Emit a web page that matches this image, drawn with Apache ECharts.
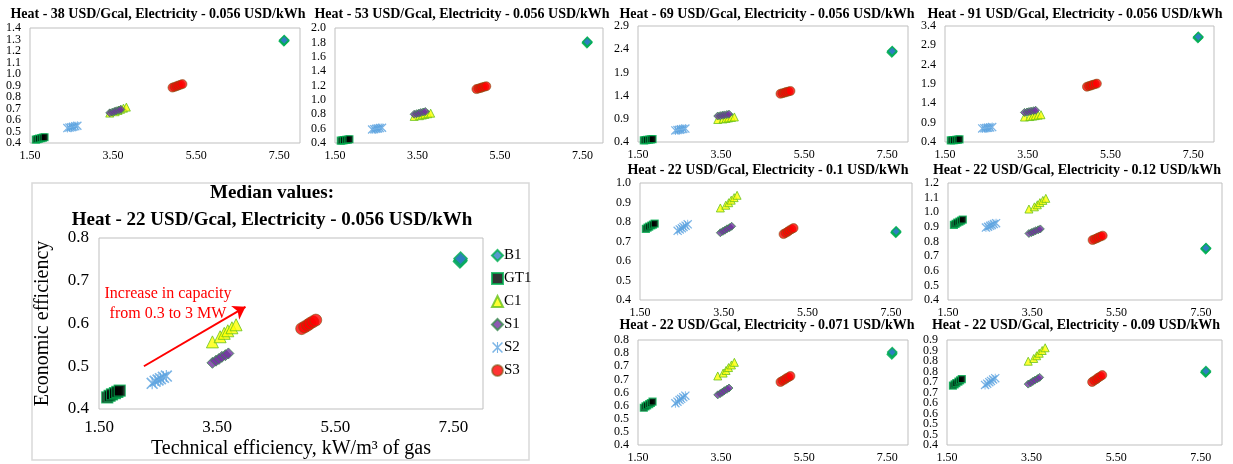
<!DOCTYPE html>
<html><head><meta charset="utf-8">
<script src="https://cdn.jsdelivr.net/npm/echarts/dist/echarts.min.js"></script>
<style>html,body{margin:0;padding:0;background:#fff}#c{width:1233px;height:464px}</style>
</head><body><div id="c"></div>
<script>
// ---------------- DATA ----------------
const seriesNames = ['B1', 'GT1', 'C1', 'S1', 'S2', 'S3'];

// Technical efficiency, kW/m3 of gas (same in every panel)
const xB1  = [7.61, 7.62, 7.62];
const xGT1 = [1.64, 1.68, 1.72, 1.77, 1.81, 1.85];
const xC1  = [3.42, 3.55, 3.62, 3.68, 3.75, 3.82];
const xS1  = [3.42, 3.48, 3.53, 3.58, 3.64, 3.69];
const xS2  = [2.40, 2.45, 2.50, 2.54, 2.59, 2.64];
const xS3  = [4.93, 4.98, 5.03, 5.07, 5.12, 5.17];

// Economic efficiency per panel
const yMedian = { B1:[0.745,0.748,0.752], GT1:[0.427,0.431,0.434,0.437,0.440,0.443], C1:[0.557,0.569,0.577,0.583,0.590,0.597], S1:[0.508,0.513,0.517,0.522,0.526,0.530], S2:[0.460,0.465,0.468,0.471,0.474,0.477], S3:[0.588,0.592,0.596,0.600,0.604,0.608] };
const yHeat38 = { B1:[1.285,1.290,1.295], GT1:[0.430,0.434,0.438,0.442,0.446,0.450], C1:[0.660,0.672,0.683,0.693,0.703,0.712], S1:[0.662,0.668,0.674,0.680,0.686,0.692], S2:[0.530,0.534,0.538,0.542,0.546,0.550], S3:[0.882,0.888,0.894,0.900,0.906,0.912] };
const yHeat53 = { B1:[1.790,1.800,1.810], GT1:[0.432,0.436,0.440,0.444,0.448,0.452], C1:[0.770,0.780,0.789,0.798,0.807,0.815], S1:[0.800,0.808,0.815,0.823,0.831,0.838], S2:[0.588,0.593,0.598,0.603,0.608,0.612], S3:[1.150,1.158,1.166,1.174,1.182,1.190] };
const yHeat69 = { B1:[2.330,2.350,2.360], GT1:[0.437,0.442,0.446,0.451,0.455,0.460], C1:[0.885,0.897,0.908,0.919,0.930,0.940], S1:[0.960,0.968,0.976,0.984,0.992,1.000], S2:[0.650,0.658,0.666,0.674,0.682,0.690], S3:[1.440,1.452,1.464,1.476,1.488,1.500] };
const yHeat91 = { B1:[3.090,3.110,3.120], GT1:[0.440,0.446,0.451,0.457,0.462,0.468], C1:[1.045,1.058,1.070,1.082,1.094,1.105], S1:[1.165,1.176,1.187,1.198,1.209,1.220], S2:[0.750,0.757,0.764,0.771,0.778,0.785], S3:[1.830,1.846,1.862,1.878,1.894,1.910] };
const yElec100 = { B1:[0.745,0.748,0.752], GT1:[0.765,0.771,0.776,0.782,0.787,0.792], C1:[0.872,0.886,0.899,0.912,0.925,0.937], S1:[0.745,0.752,0.758,0.765,0.771,0.778], S2:[0.755,0.762,0.768,0.775,0.781,0.788], S3:[0.738,0.744,0.750,0.757,0.763,0.769] };
const yElec120 = { B1:[0.748,0.752,0.755], GT1:[0.914,0.921,0.929,0.936,0.943,0.950], C1:[1.022,1.037,1.051,1.066,1.081,1.095], S1:[0.855,0.861,0.867,0.874,0.880,0.886], S2:[0.895,0.901,0.907,0.913,0.919,0.925], S3:[0.810,0.816,0.822,0.828,0.834,0.840] };
const yElec071 = { B1:[0.745,0.750,0.754], GT1:[0.542,0.547,0.551,0.556,0.560,0.565], C1:[0.663,0.674,0.684,0.695,0.705,0.715], S1:[0.591,0.596,0.601,0.607,0.612,0.617], S2:[0.559,0.565,0.571,0.576,0.582,0.588], S3:[0.640,0.645,0.649,0.654,0.658,0.663] };
const yElec090 = { B1:[0.745,0.748,0.752], GT1:[0.683,0.689,0.695,0.702,0.708,0.714], C1:[0.799,0.812,0.825,0.837,0.850,0.863], S1:[0.690,0.696,0.703,0.709,0.716,0.722], S2:[0.686,0.692,0.699,0.705,0.712,0.718], S3:[0.700,0.707,0.713,0.720,0.726,0.733] };

const panelTitles = [
  'Heat - 38 USD/Gcal, Electricity - 0.056 USD/kWh',
  'Heat - 53 USD/Gcal, Electricity - 0.056 USD/kWh',
  'Heat - 69 USD/Gcal, Electricity - 0.056 USD/kWh',
  'Heat - 91 USD/Gcal, Electricity - 0.056 USD/kWh',
  'Median values:\nHeat - 22 USD/Gcal, Electricity - 0.056 USD/kWh',
  'Heat - 22 USD/Gcal, Electricity - 0.1 USD/kWh',
  'Heat - 22 USD/Gcal, Electricity - 0.12 USD/kWh',
  'Heat - 22 USD/Gcal, Electricity - 0.071 USD/kWh',
  'Heat - 22 USD/Gcal, Electricity - 0.09 USD/kWh'
];
const panelData = [yHeat38, yHeat53, yHeat69, yHeat91, yMedian, yElec100, yElec120, yElec071, yElec090];
// y tick labels: [min, max, label step, decimals]
const yTicks = [[0.4,1.4,0.1,1],[0.4,2.0,0.2,1],[0.4,2.9,0.5,1],[0.4,3.4,0.5,1],[0.4,0.8,0.1,1],[0.4,1.0,0.1,1],[0.4,1.2,0.1,1],[0.4,0.8,0.05,1],[0.4,0.9,0.05,1]];
// x tick labels: [min, max, label step, decimals]
const xTicks = [1.5, 8.0, 2, 2];
const xName = 'Technical efficiency, kW/m³ of gas';
const yName = 'Economic efficiency';
const annotation = 'Increase in capacity\nfrom 0.3 to 3 MW';
const arrowFrom = [2.26, 0.500], arrowTo = [3.98, 0.639];

// ---------------- LAYOUT / STYLE ----------------
const BIG = 4;
const grids = [
  {left:30, top:28, width:270, height:115},
  {left:335, top:28, width:268, height:115},
  {left:638, top:26, width:270, height:116},
  {left:945, top:26, width:269, height:116},
  {left:99, top:238, width:384, height:171},
  {left:640, top:183, width:272, height:117},
  {left:948, top:183, width:274, height:117},
  {left:638, top:340, width:270, height:116},
  {left:947, top:340, width:275, height:116}
];
const titlePos = [[158,14],[462,14],[767,14],[1075,14],[272,207],[768,170],[1077,170],[767,325],[1076,325]];
const FONT = 'Liberation Serif';
const GREEN = '#00B050';
const xsOf = {B1:xB1, GT1:xGT1, C1:xC1, S1:xS1, S2:xS2, S3:xS3};
const starPath = 'path://M0,1L1,0L10,9L9,10Z M9,0L10,1L1,10L0,9Z M4.5,0L5.5,0L5.5,10L4.5,10Z';
const styleOf = {
  B1:  {symbol:'diamond', size:[9,13], item:{color:'#2E7DC0', borderColor:GREEN, borderWidth:1.5}},
  GT1: {symbol:'rect', size:[7,11], item:{color:'#000000', borderColor:GREEN, borderWidth:1.2}},
  C1:  {symbol:'triangle', size:[8,12], item:{color:'#FFFF00', borderColor:'#66C21A', borderWidth:1}},
  S1:  {symbol:'diamond', size:[8,11], item:{color:'#7030A0', borderColor:'#3C8A50', borderWidth:1}},
  S2:  {symbol:starPath, size:[9,12], item:{color:'#5BA3E0', borderWidth:0}},
  S3:  {symbol:'circle', size:[9,12], item:{color:'#FF0000', borderColor:'rgba(120,90,20,0.7)', borderWidth:1}}
};

function fmt(start, step, dec) {
  return function (v) {
    const k = (v - start) / step;
    if (Math.abs(k - Math.round(k)) > 1e-6) return '';
    const p = Math.pow(10, dec);
    return (Math.round(v * p) / p).toFixed(dec);
  };
}

const xAxes = [], yAxes = [], series = [], graphics = [];
grids.forEach((g, i) => {
  const big = i === BIG;
  const fs = big ? 17 : 12;
  const yt = yTicks[i];
  xAxes.push({
    type:'value', gridIndex:i, min:xTicks[0], max:xTicks[1], interval:0.5,
    axisLine:{show:false}, axisTick:{show:false}, splitLine:{show:false},
    axisLabel:{formatter:fmt(xTicks[0], xTicks[2], xTicks[3]), fontFamily:FONT, fontSize:fs, color:'#000', margin:big?10:7, showMinLabel:true, showMaxLabel:true},
    name: big ? xName : '', nameLocation:'middle', nameGap:30,
    nameTextStyle:{fontFamily:FONT, fontSize:20, color:'#000'}
  });
  // fine tick step (labels only on every label-step tick, empty elsewhere)
  const fine = (yt[2] === 0.5) ? 0.1 : yt[2] / 2;
  yAxes.push({
    type:'value', gridIndex:i, min:yt[0], max:yt[1], interval:fine,
    axisLine:{show:false}, axisTick:{show:false}, splitLine:{show:false},
    axisLabel:{formatter:fmt(yt[0], yt[2], yt[3]), fontFamily:FONT, fontSize:fs, color:'#000', margin:big?10:9, showMinLabel:true, showMaxLabel:true, hideOverlap:false},
    name: big ? yName : '', nameLocation:'middle', nameGap:46,
    nameTextStyle:{fontFamily:FONT, fontSize:20, color:'#000'}
  });
  seriesNames.forEach(s => {
    const st = styleOf[s];
    const ys = panelData[i][s];
    const ser = {
      type:'scatter', name:s, xAxisIndex:i, yAxisIndex:i,
      symbol:st.symbol, symbolSize: big ? st.size[1] : st.size[0],
      itemStyle:st.item, emphasis:{disabled:true}, animation:false,
      data: xsOf[s].map((x, k) => [x, ys[k]])
    };
    if (big && s === 'S3') {
      ser.markLine = {
        silent:true, symbol:['none','arrow'], symbolSize:12, animation:false,
        label:{show:false}, lineStyle:{color:'#FF0000', width:2, type:'solid'},
        itemStyle:{color:'#FF0000'},
        emphasis:{disabled:true},
        data:[[{coord:arrowFrom}, {coord:arrowTo}]]
      };
    }
    series.push(ser);
  });
  graphics.push({
    type:'text', x:titlePos[i][0], y:titlePos[i][1], z:10,
    style:{text:panelTitles[i], textAlign:'center', textVerticalAlign:'middle', fill:'#000',
      font:'bold ' + (big ? 19 : 14) + 'px "' + FONT + '"', lineHeight: big ? 27 : 16}
  });
});

graphics.unshift({type:'rect', shape:{x:32, y:183, width:497, height:277}, style:{fill:'none', stroke:'#D9D9D9', lineWidth:1.5}, z:-1});
graphics.push({type:'text', x:168, y:304, z:10,
  style:{text:annotation, textAlign:'center', textVerticalAlign:'middle', fill:'#FF0000', font:'16px "' + FONT + '"', lineHeight:20}});

const chart = echarts.init(document.getElementById('c'), null, {renderer:'canvas'});
chart.setOption({
  backgroundColor:'#ffffff',
  animation:false,
  grid: grids.map(g => Object.assign({show:true, borderColor:'#BFBFBF', borderWidth:1, backgroundColor:'transparent'}, g)),
  xAxis:xAxes, yAxis:yAxes, series:series,
  legend:{data:seriesNames, orient:'vertical', left:486, top:243, itemGap:8, itemWidth:11, itemHeight:11,
    textStyle:{fontFamily:FONT, fontSize:15, color:'#000', padding:[0,0,0,-4]}},
  graphic:graphics
});
</script></body></html>
